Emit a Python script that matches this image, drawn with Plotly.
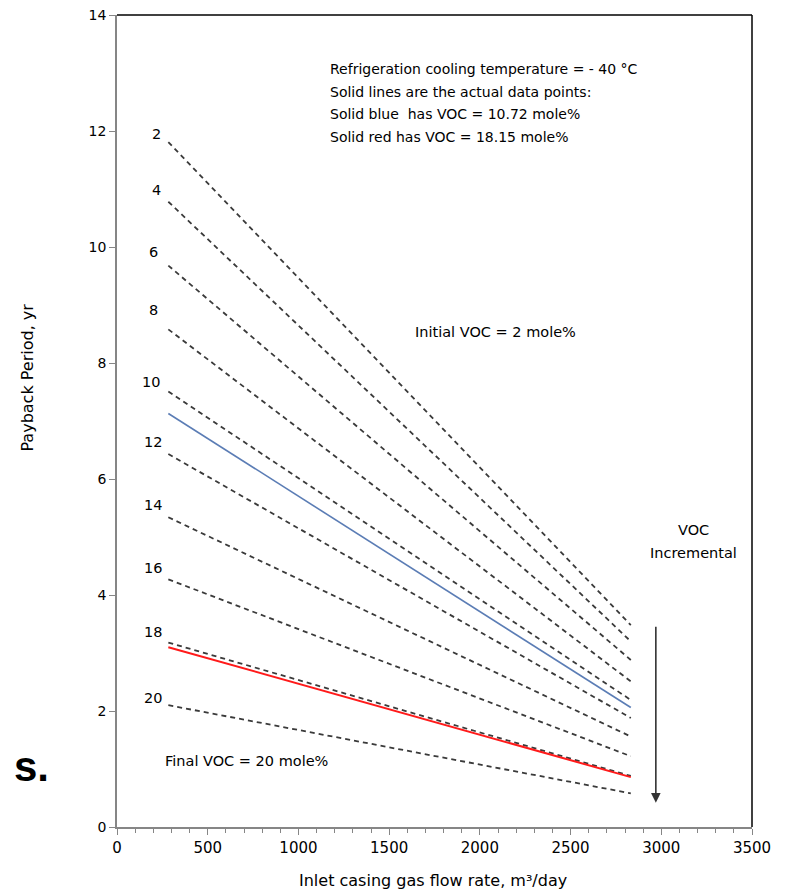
import plotly.graph_objects as go

# ---------------- data ----------------
flow_rate = [283, 2832]  # m3/day (10,000 - 100,000 scf/d)
voc_levels = [2, 4, 6, 8, 10, 12, 14, 16, 18, 20]
payback_start = [11.81, 10.78, 9.68, 8.58, 7.51, 6.43, 5.34, 4.27, 3.18, 2.10]
payback_end = [3.48, 3.20, 2.88, 2.51, 2.19, 1.88, 1.56, 1.22, 0.88, 0.58]
blue_payback = [7.13, 2.06]   # VOC = 10.72 mole%
red_payback = [3.10, 0.86]    # VOC = 18.15 mole%
arrow_x = 2970
arrow_y = [3.48, 0.42]

x_ticks = [0, 500, 1000, 1500, 2000, 2500, 3000, 3500]
y_ticks = [0, 2, 4, 6, 8, 10, 12, 14]

FONT = "DejaVu Sans"

fig = go.Figure()

for v, s, e in zip(voc_levels, payback_start, payback_end):
    fig.add_trace(go.Scatter(
        x=flow_rate, y=[s, e], mode="lines", name=f"VOC {v}",
        line=dict(color="#3a3a3a", width=1.8, dash="5px,4px"),
        showlegend=False, hoverinfo="skip"))

fig.add_trace(go.Scatter(x=flow_rate, y=blue_payback, mode="lines",
                         line=dict(color="#5b7db5", width=1.6),
                         showlegend=False, hoverinfo="skip"))
fig.add_trace(go.Scatter(x=flow_rate, y=red_payback, mode="lines",
                         line=dict(color="#ff1a1a", width=2),
                         showlegend=False, hoverinfo="skip"))

# plot geometry in reference-picture pixels; page body adds an 8px offset
OFF = 8
L, R, T, B = 116.5, 752, 15, 827
W, H = 792 - OFF, 895 - OFF


def px(xp):
    return (xp - L) / (R - L)


def py(yp):
    return (B - yp) / (B - T)


annotations = []
label_pos = [(156, 134), (156, 190), (153, 252), (153, 310), (151, 382),
             (153, 442), (153, 505), (153, 568), (153, 632), (153, 698)]
for v, (lx, ly) in zip(voc_levels, label_pos):
    annotations.append(dict(x=px(lx), y=py(ly), xref="paper", yref="paper",
                            text=str(v), showarrow=False,
                            font=dict(family=FONT, size=14.5, color="black"),
                            xanchor="center", yanchor="middle"))

info_lines = ["Refrigeration cooling temperature = - 40 °C",
              "Solid lines are the actual data points:",
              "Solid blue  has VOC = 10.72 mole%",
              "Solid red has VOC = 18.15 mole%"]
for i, t in enumerate(info_lines):
    annotations.append(dict(x=px(328), y=py(69 + i * 22.7), xref="paper", yref="paper",
                            text=t, showarrow=False,
                            font=dict(family=FONT, size=14, color="black"),
                            xanchor="left", yanchor="middle"))

annotations.append(dict(x=px(413), y=py(332), xref="paper", yref="paper",
                        text="Initial VOC = 2 mole%", showarrow=False,
                        font=dict(family=FONT, size=14.5, color="black"),
                        xanchor="left", yanchor="middle"))
annotations.append(dict(x=px(163), y=py(761), xref="paper", yref="paper",
                        text="Final VOC = 20 mole%", showarrow=False,
                        font=dict(family=FONT, size=14.5, color="black"),
                        xanchor="left", yanchor="middle"))
annotations.append(dict(x=px(693), y=py(530), xref="paper", yref="paper",
                        text="VOC", showarrow=False,
                        font=dict(family=FONT, size=14.5, color="black"),
                        xanchor="center", yanchor="middle"))
annotations.append(dict(x=px(693), y=py(553), xref="paper", yref="paper",
                        text="Incremental", showarrow=False,
                        font=dict(family=FONT, size=14.5, color="black"),
                        xanchor="center", yanchor="middle"))

# arrow
annotations.append(dict(x=arrow_x, y=arrow_y[1], ax=arrow_x, ay=arrow_y[0],
                        xref="x", yref="y", axref="x", ayref="y",
                        text="", showarrow=True, arrowhead=2, arrowsize=1.2,
                        arrowwidth=1.6, arrowcolor="#333333"))

# axis titles
annotations.append(dict(x=px(433), y=py(880), xref="paper", yref="paper",
                        text="Inlet casing gas flow rate, m³/day", showarrow=False,
                        font=dict(family=FONT, size=16, color="black"),
                        xanchor="center", yanchor="middle"))
annotations.append(dict(x=px(26), y=py(378), xref="paper", yref="paper",
                        text="Payback Period, yr", showarrow=False, textangle=-90,
                        font=dict(family=FONT, size=16, color="black"),
                        xanchor="center", yanchor="middle"))

# stray fragment
annotations.append(dict(x=px(11), y=py(766), xref="paper", yref="paper",
                        text="<b>s.</b>", showarrow=False,
                        font=dict(family="Liberation Sans", size=42, color="black"),
                        xanchor="left", yanchor="middle"))

shapes = [
    dict(type="line", xref="paper", yref="paper", x0=0, x1=1, y0=1, y1=1,
         line=dict(color="black", width=1.5)),
    dict(type="line", xref="paper", yref="paper", x0=1, x1=1, y0=0, y1=1,
         line=dict(color="black", width=1.5)),
]

fig.update_layout(
    width=W, height=H,
    margin=dict(l=L - OFF, r=792 - R, t=T - OFF, b=895 - B, pad=0, autoexpand=False),
    plot_bgcolor="white", paper_bgcolor="white",
    annotations=annotations, shapes=shapes,
    showlegend=False,
)
fig.update_xaxes(range=[0, 3500], tickvals=x_ticks, ticktext=[str(v) for v in x_ticks],
                 showgrid=False, zeroline=False, showline=True, linecolor="#868686",
                 linewidth=1.5, ticks="outside", ticklen=6, tickcolor="#868686",
                 ticklabeloverflow="allow", automargin=False,
                 tickfont=dict(family=FONT, size=15, color="black"),
                 minor=dict(dtick=100, ticks="outside", ticklen=4, tickcolor="#868686"))
fig.update_yaxes(range=[0, 14], tickvals=y_ticks, ticktext=[str(v) for v in y_ticks],
                 showgrid=False, zeroline=False, showline=True, linecolor="#868686",
                 linewidth=1.5, ticks="outside", ticklen=6, tickcolor="#868686",
                 ticklabeloverflow="allow", automargin=False,
                 tickfont=dict(family=FONT, size=14, color="black"))

fig.write_html("out.html")
